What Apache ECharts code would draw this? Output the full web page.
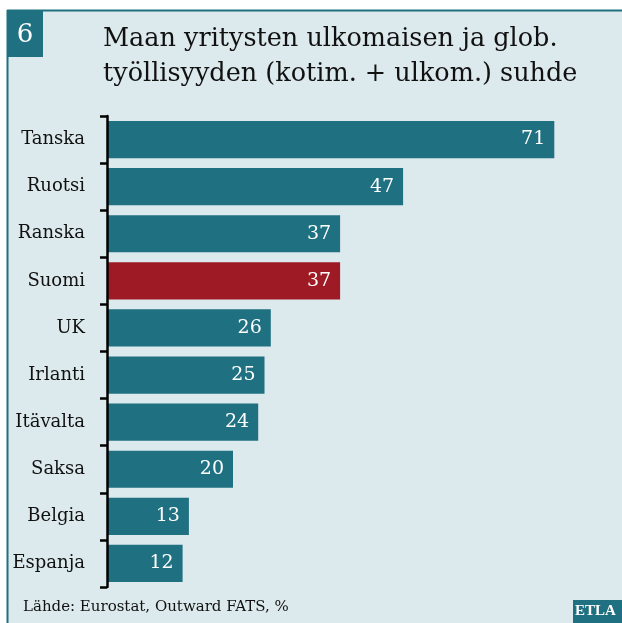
<!DOCTYPE html>
<html>
<head>
<meta charset="utf-8">
<script src="https://cdn.jsdelivr.net/npm/echarts@6/dist/echarts.min.js"></script>
<style>
  html, body { margin: 0; padding: 0; background: #ffffff; }
  #chart { width: 622px; height: 623px; }
</style>
</head>
<body>
<div id="chart"></div>
<script>
// data
const countries = ['Tanska', 'Ruotsi', 'Ranska', 'Suomi', 'UK', 'Irlanti', 'Itävalta', 'Saksa', 'Belgia', 'Espanja'];
const shares = [71, 47, 37, 37, 26, 25, 24, 20, 13, 12];
const highlight = 'Suomi';

const TEAL = '#1f7081';
const RED = '#9e1a24';
const BG = '#dce9ed';
const FONT = '"DejaVu Serif", "Liberation Serif", serif';

const chart = echarts.init(document.getElementById('chart'));

const option = {
  backgroundColor: '#ffffff',
  animation: false,
  textStyle: { fontFamily: FONT },
  graphic: [
    // panel background + frame
    { type: 'rect', shape: { x: 8, y: 11, width: 614, height: 612 }, style: { fill: BG }, z: -10 },
    { type: 'line', shape: { x1: 7, y1: 10.5, x2: 622, y2: 10.5 }, style: { stroke: TEAL, lineWidth: 2 } },
    { type: 'line', shape: { x1: 7.5, y1: 10, x2: 7.5, y2: 623 }, style: { stroke: TEAL, lineWidth: 2 } },
    // figure number
    { type: 'rect', shape: { x: 7, y: 10, width: 36, height: 47 }, style: { fill: TEAL } },
    { type: 'text', x: 25, y: 35, style: { text: '6', fill: '#ffffff', font: '26px ' + FONT, align: 'center', verticalAlign: 'middle' } },
    // title
    { type: 'text', left: 103, top: 22, style: { text: 'Maan yritysten ulkomaisen ja glob.\ntyöllisyyden (kotim. + ulkom.) suhde', fill: '#111111', font: '25.5px ' + FONT, lineHeight: 35 } },
    // source
    { type: 'text', left: 23, top: 600, style: { text: 'Lähde: Eurostat, Outward FATS, %', fill: '#111111', font: '15px ' + FONT } },
    // logo
    { type: 'rect', shape: { x: 573, y: 600, width: 49, height: 23 }, style: { fill: TEAL } },
    { type: 'text', left: 575, top: 604, style: { text: 'ETLA', fill: '#ffffff', font: 'bold 15px "Liberation Serif", serif' } }
  ],
  grid: { left: 107, right: 11, top: 116, bottom: 36, containLabel: false },
  xAxis: {
    type: 'value',
    min: 0,
    max: 80,
    show: false
  },
  yAxis: {
    type: 'category',
    data: countries,
    inverse: true,
    z: 5,
    axisLine: { show: true, lineStyle: { color: '#000000', width: 2.5 } },
    axisTick: { show: true, length: 7, lineStyle: { color: '#000000', width: 2.5 } },
    axisLabel: { color: '#111111', fontSize: 18, fontFamily: FONT, margin: 22 },
    splitLine: { show: false }
  },
  series: [{
    type: 'bar',
    barCategoryGap: '21%',
    data: shares.map((v, i) => ({
      value: v,
      itemStyle: { color: countries[i] === highlight ? RED : TEAL }
    })),
    label: {
      show: true,
      position: 'insideRight',
      distance: 9,
      color: '#ffffff',
      fontSize: 19,
      fontFamily: FONT
    }
  }]
};

chart.setOption(option);
</script>
</body>
</html>
